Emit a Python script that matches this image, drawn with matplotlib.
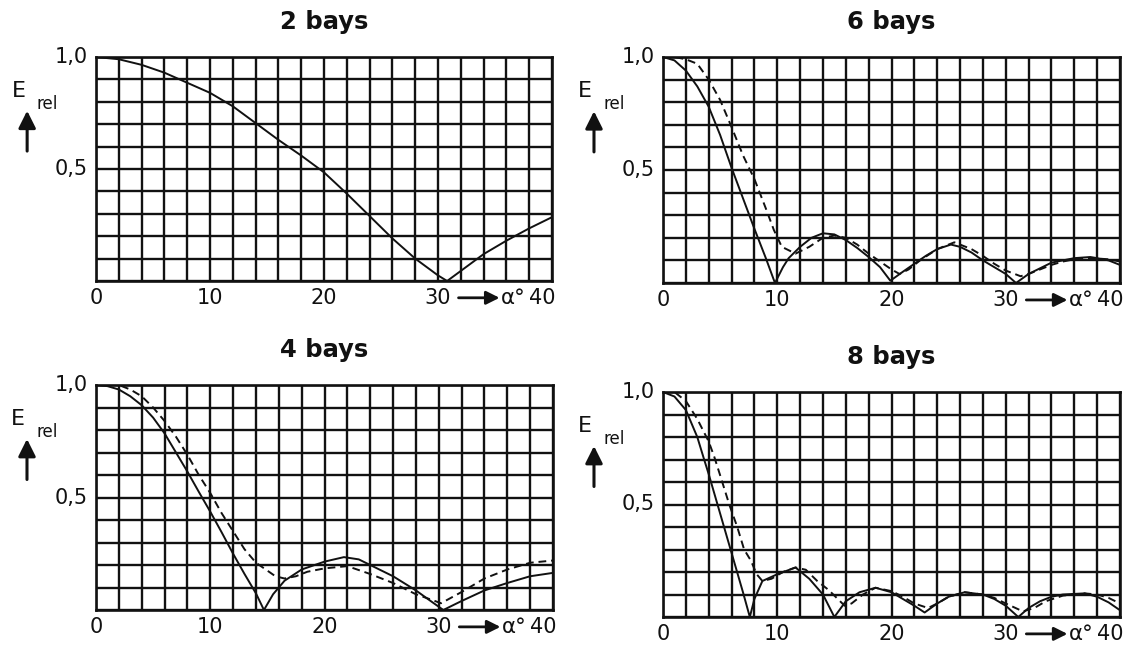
import matplotlib
matplotlib.use('Agg')
import matplotlib.pyplot as plt
import matplotlib.transforms as mtransforms
import numpy as np

plt.rcParams['font.family'] = ['DejaVu Sans']

# ---------------- data ----------------
titles = ['2 bays', '6 bays', '4 bays', '8 bays']

# 2 bays (solid only)
a2s = [0, 2, 4, 6, 8, 10, 12, 14, 16, 18, 20, 22, 24, 26, 28, 30, 30.8, 32, 34, 36, 38, 40]
e2s = [1.0, 0.99, 0.965, 0.93, 0.885, 0.84, 0.78, 0.705, 0.63, 0.56, 0.485, 0.39, 0.29, 0.19,
       0.10, 0.025, 0.0, 0.045, 0.12, 0.18, 0.235, 0.285]

# 4 bays
a4s = [0, 1, 2, 3, 4, 5, 6, 7, 8, 9, 10, 11, 12, 13, 14, 14.7, 15.5, 16.5, 18, 20, 21.7, 23,
       24, 26, 28, 29.4, 30.4, 32, 34, 36, 38, 40]
e4s = [1.0, 0.995, 0.98, 0.95, 0.91, 0.855, 0.785, 0.70, 0.615, 0.525, 0.437, 0.345, 0.25, 0.16,
       0.074, 0.0, 0.07, 0.13, 0.18, 0.215, 0.235, 0.225, 0.2, 0.15, 0.087, 0.036, 0.0, 0.04,
       0.087, 0.12, 0.15, 0.165]
a4d = [0, 1, 2, 3, 4, 5, 6, 7, 8, 9, 10, 11, 12, 13, 14, 15, 15.7, 16.5, 17.5, 18.5, 20, 22,
       24, 26, 28, 29.4, 30.2, 32, 34, 36, 38, 40]
e4d = [1.0, 1.0, 1.0, 0.98, 0.95, 0.9, 0.84, 0.77, 0.69, 0.6, 0.52, 0.43, 0.35, 0.27,
       0.21, 0.175, 0.15, 0.14, 0.15, 0.17, 0.185, 0.195, 0.16, 0.12, 0.07, 0.045, 0.03, 0.08,
       0.14, 0.18, 0.21, 0.22]

# 6 bays
a6s = [0, 1, 2, 3, 4, 5, 6, 7, 8, 9, 9.8, 10.5, 11, 12, 13, 14, 15, 16, 17, 18, 19, 19.9, 21,
       22, 23, 24, 25.2, 26, 27, 28, 29, 30, 30.9, 32, 33, 34, 35, 36, 37.4, 38, 39, 40]
e6s = [1.0, 0.985, 0.94, 0.87, 0.78, 0.655, 0.51, 0.375, 0.24, 0.11, 0.0, 0.07, 0.11, 0.16,
       0.2, 0.22, 0.215, 0.19, 0.155, 0.115, 0.07, 0.01, 0.05, 0.085, 0.12, 0.15, 0.17, 0.16,
       0.135, 0.1, 0.07, 0.04, 0.0, 0.04, 0.065, 0.09, 0.1, 0.11, 0.115, 0.11, 0.1, 0.08]
a6d = [0, 1, 2, 3, 4, 5, 6, 7, 8, 9, 9.7, 10.4, 11.6, 12.8, 14, 15, 16, 17, 18, 19, 20, 20.7,
       21.5, 22.5, 24, 25.5, 27, 28, 29, 30, 31.3, 32, 33, 34, 35, 36, 37.5, 39, 40]
e6d = [1.0, 1.0, 0.99, 0.97, 0.9, 0.81, 0.69, 0.565, 0.46, 0.33, 0.235, 0.16, 0.13, 0.16, 0.2,
       0.21, 0.2, 0.17, 0.13, 0.095, 0.06, 0.04, 0.06, 0.1, 0.15, 0.18, 0.15, 0.12, 0.085,
       0.055, 0.03, 0.04, 0.06, 0.08, 0.095, 0.105, 0.11, 0.105, 0.095]

# 8 bays
a8s = [0, 1, 2, 3, 3.6, 4, 5, 6, 7, 7.6, 8, 8.7, 10, 11.6, 12.8, 14, 15, 16, 17.2, 18.6, 20,
       21, 22, 22.9, 24, 25, 26.4, 28, 29, 30, 31.1, 32, 33, 34, 35, 36.9, 38, 39, 40]
e8s = [1.0, 0.98, 0.92, 0.8, 0.7, 0.635, 0.46, 0.285, 0.11, 0.0, 0.08, 0.16, 0.19, 0.22, 0.17,
       0.1, 0.0, 0.07, 0.11, 0.13, 0.11, 0.08, 0.05, 0.02, 0.06, 0.09, 0.11, 0.1, 0.08, 0.05,
       0.0, 0.04, 0.07, 0.09, 0.1, 0.105, 0.09, 0.065, 0.03]
a8d = [0, 1, 2, 3, 4, 4.5, 5, 5.8, 6.5, 7.1, 7.7, 8.2, 8.7, 9.5, 10.5, 11.6, 12.5, 13.5, 14.5,
       15.3, 15.9, 16.5, 17.5, 18.6, 20, 21, 22, 23.2, 24, 25, 26.4, 28, 29, 30, 31.5, 32.5,
       33.5, 35, 36.9, 38, 39, 40]
e8d = [1.0, 1.0, 0.96, 0.88, 0.78, 0.71, 0.63, 0.5, 0.4, 0.3, 0.25, 0.19, 0.16, 0.17, 0.2,
       0.22, 0.21, 0.16, 0.12, 0.08, 0.05, 0.06, 0.1, 0.13, 0.115, 0.09, 0.06, 0.04, 0.06,
       0.09, 0.11, 0.1, 0.085, 0.06, 0.025, 0.04, 0.07, 0.095, 0.105, 0.1, 0.085, 0.06]

series = [
    [(a2s, e2s, 'solid')],
    [(a6s, e6s, 'solid'), (a6d, e6d, 'dashed')],
    [(a4s, e4s, 'solid'), (a4d, e4d, 'dashed')],
    [(a8s, e8s, 'solid'), (a8d, e8d, 'dashed')],
]

x_labels = ['0', '10', '20', '30']
x_label_pos = [0, 10, 20, 30]
y_labels = ['0,5', '1,0']
y_label_pos = [0.5, 1.0]

# ---------------- layout ----------------
W, H = 1141, 650
boxes_px = [  # left, top, right, bottom in pixels
    (96, 57, 552, 281),
    (663, 57, 1120, 283),
    (96, 385, 553, 610),
    (663, 392, 1120, 617),
]

fig = plt.figure(figsize=(W / 100, H / 100), dpi=100)
ink = '#111111'

for (l, t, r, b), title, ser in zip(boxes_px, titles, series):
    ax = fig.add_axes([l / W, 1 - b / H, (r - l) / W, (b - t) / H])
    ax.set_xlim(0, 40)
    ax.set_ylim(0, 1)
    ax.set_xticks(np.arange(0, 41, 2))
    ax.set_yticks(np.arange(0, 1.001, 0.1))
    ax.set_xticklabels([])
    ax.set_yticklabels([])
    ax.grid(True, color=ink, lw=1.7)
    ax.set_axisbelow(True)
    ax.tick_params(length=0)
    for s in ax.spines.values():
        s.set_linewidth(1.9)
        s.set_color(ink)

    for xs, ys, style in ser:
        if style == 'solid':
            ax.plot(xs, ys, color=ink, lw=1.4, zorder=3, solid_joinstyle='round')
        else:
            ax.plot(xs, ys, color=ink, lw=1.4, zorder=3, dashes=(4, 2.5))

    trx = mtransforms.blended_transform_factory(ax.transData, ax.transAxes)
    ylab = -0.075
    for p, lab in zip(x_label_pos, x_labels):
        ax.text(p, ylab, lab, transform=trx, ha='center', va='center', fontsize=15, color=ink)
    ax.text(40.3, ylab, '40', transform=trx, ha='right', va='center', fontsize=15, color=ink)
    ax.annotate('', xy=(35.4, ylab), xytext=(31.8, ylab), xycoords=trx, textcoords=trx,
                arrowprops=dict(arrowstyle='-|>', color=ink, lw=2.0, mutation_scale=20,
                                shrinkA=0, shrinkB=0), annotation_clip=False)
    ax.text(35.5, ylab, 'α°', transform=trx, ha='left', va='center', fontsize=15.5, color=ink)

    try_ = mtransforms.blended_transform_factory(ax.transAxes, ax.transData)
    for p, lab in zip(y_label_pos, y_labels):
        ax.text(-0.017, p, lab, transform=try_, ha='right', va='center', fontsize=15, color=ink)

    ax.text(-0.17, 0.85, 'E', transform=ax.transAxes, ha='center', va='center',
            fontsize=16, color=ink)
    ax.text(-0.107, 0.79, 'rel', transform=ax.transAxes, ha='center', va='center',
            fontsize=12, color=ink)
    ax.annotate('', xy=(-0.151, 0.76), xytext=(-0.151, 0.58), xycoords='axes fraction',
                arrowprops=dict(arrowstyle='-|>', color=ink, lw=2.2, mutation_scale=26,
                                shrinkA=0, shrinkB=0), annotation_clip=False)

    ax.set_title(title, fontsize=17.5, fontweight='bold', pad=20, color=ink)

fig.savefig('out.png', dpi=100)
